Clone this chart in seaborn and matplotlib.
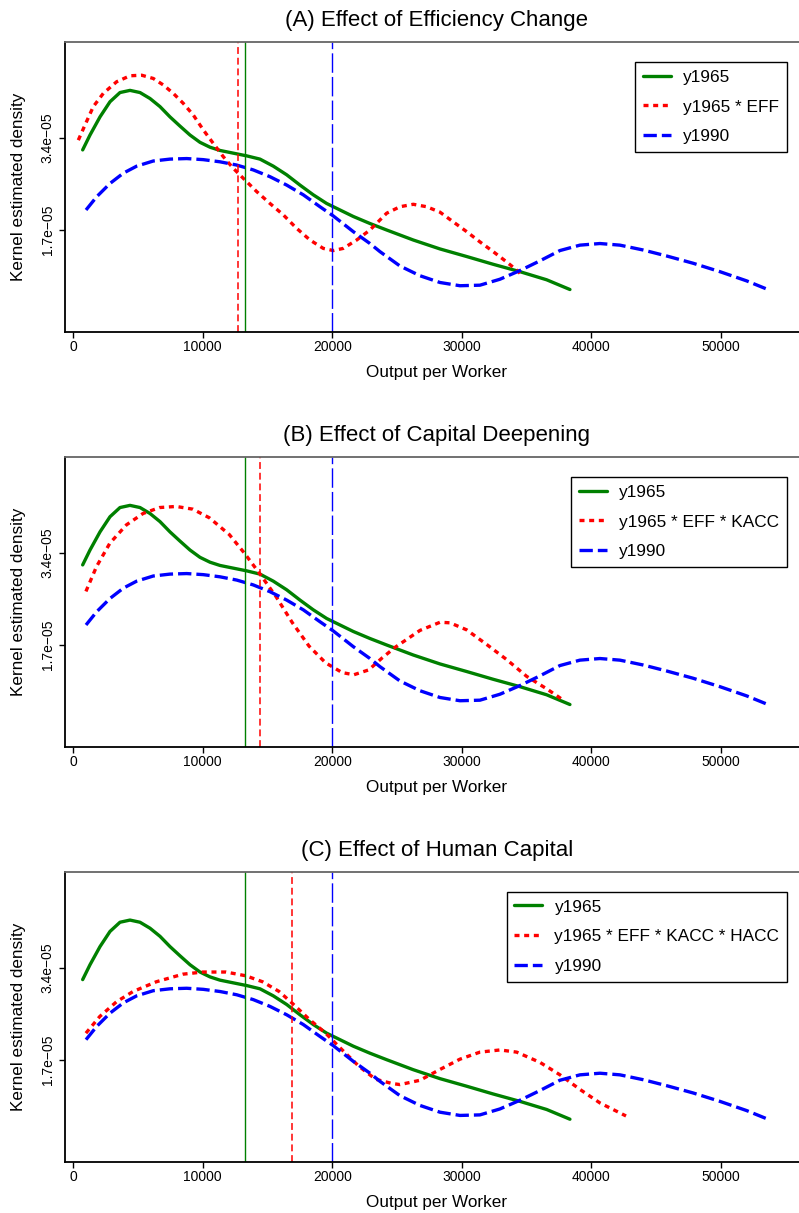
import matplotlib
matplotlib.use("Agg")
import matplotlib.pyplot as plt
import seaborn as sns
import pandas as pd

# ---------------- data (density values in units of 1e-5) ----------------
SCALE = 1e-5

y1965_x = [723, 1290, 2062, 2834, 3606, 4378, 5151, 5923, 6695, 7467, 8239,
           9012, 9784, 10556, 11328, 12355, 13390, 14417, 15444, 16479, 17506,
           18533, 19568, 20595, 21622, 22911, 24201, 26256, 28317, 30378,
           32433, 34494, 36556, 38356]
y1965_d = [3.18, 3.455, 3.79, 4.07, 4.24, 4.28, 4.24, 4.13, 3.98, 3.79, 3.62,
           3.455, 3.32, 3.23, 3.17, 3.12, 3.07, 3.01, 2.88, 2.72, 2.53,
           2.35, 2.19, 2.07, 1.95, 1.82, 1.70, 1.515, 1.35, 1.21,
           1.066, 0.93, 0.78, 0.60]

y1990_x = [981, 1807, 2834, 3861, 4896, 6178, 7467, 8757, 10039, 11328, 12618,
           13900, 15189, 16479, 17761, 19050, 20077, 21622, 22911, 23684, 25228,
           26773, 28317, 29862, 31406, 32951, 34494, 36039, 37583, 39128, 40672,
           42216, 44017, 45824, 47877, 49939, 52001, 53748]
y1990_d = [2.07, 2.315, 2.56, 2.75, 2.88, 2.975, 3.01, 3.02, 3.00, 2.96, 2.90,
           2.81, 2.685, 2.53, 2.35, 2.13, 1.96, 1.67, 1.45, 1.30, 1.035,
           0.855, 0.73, 0.67, 0.68, 0.79, 0.95, 1.13, 1.32, 1.42, 1.45,
           1.42, 1.33, 1.22, 1.085, 0.93, 0.76, 0.59]

eff_x = [386, 903, 1544, 2317, 3351, 4378, 5282, 6178, 6950, 7722, 8494, 9266,
         10039, 10811, 11583, 12355, 13128, 14162, 15189, 16216, 17251, 18278,
         19305, 20077, 20850, 21885, 22911, 24201, 25228, 26256, 27290, 28317,
         29344, 30378, 31406, 32433, 33467, 34239, 34749]
eff_d = [3.36, 3.64, 3.98, 4.225, 4.44, 4.55, 4.56, 4.50, 4.38, 4.225, 4.04, 3.825,
         3.55, 3.30, 3.055, 2.84, 2.655, 2.41, 2.19, 1.98, 1.73, 1.515,
         1.36, 1.32, 1.36, 1.515, 1.70, 2.01, 2.13, 2.175, 2.13, 2.03,
         1.85, 1.67, 1.48, 1.30, 1.11, 0.96, 0.84]

kacc_x = [974, 1795, 2821, 4103, 5385, 6666, 7949, 9231, 10513, 12051, 13205,
          14359, 15641, 16923, 18205, 19487, 20769, 21667, 22820, 23846, 24872,
          26777, 28321, 29093, 30380, 31924, 33472, 35017, 36561, 37848]
kacc_d = [2.69, 3.15, 3.58, 3.92, 4.13, 4.24, 4.26, 4.21, 4.05, 3.74, 3.40,
          3.03, 2.60, 2.11, 1.68, 1.37, 1.19, 1.15, 1.24, 1.46, 1.66,
          1.97, 2.12, 2.11, 1.98, 1.71, 1.43, 1.12, 0.89, 0.68]

hacc_x = [974, 2051, 3333, 4615, 6410, 8461, 10000, 11795, 13333, 14615, 15897,
          16923, 18205, 19487, 20769, 22051, 23333, 24615, 25232, 26777, 28321,
          29866, 31411, 32956, 34243, 36045, 37590, 39135, 40680, 42688]
hacc_d = [2.19, 2.50, 2.77, 2.96, 3.14, 3.28, 3.32, 3.32, 3.25, 3.14, 2.96,
          2.74, 2.45, 2.19, 1.88, 1.58, 1.34, 1.26, 1.24, 1.32, 1.52,
          1.71, 1.84, 1.88, 1.84, 1.65, 1.42, 1.15, 0.90, 0.66]

# vertical reference lines (means)
mean_y1965 = 13282
mean_y1990 = 20000
mean_cf = [12743, 14410, 16923]

titles = ["(A) Effect of Efficiency Change",
          "(B) Effect of Capital Deepening",
          "(C) Effect of Human Capital"]
cf_labels = ["y1965 * EFF", "y1965 * EFF * KACC", "y1965 * EFF * KACC * HACC"]
cf_series = [(eff_x, eff_d), (kacc_x, kacc_d), (hacc_x, hacc_d)]

x_ticks = [0, 10000, 20000, 30000, 40000, 50000]
x_ticklabels = ["0", "10000", "20000", "30000", "40000", "50000"]
y_ticks = [1.7e-5, 3.4e-5]
y_ticklabels = ["1.7e\u221205", "3.4e\u221205"]

legend_anchor = (0.9705, 0.931)

# ---------------- styling ----------------
sns.set_theme(style="white")
plt.rcParams["font.family"] = ["Liberation Sans", "DejaVu Sans"]
plt.rcParams["axes.unicode_minus"] = True
for k in ["text.color", "axes.labelcolor", "xtick.color", "ytick.color"]:
    plt.rcParams[k] = "black"

GREEN = "#008000"
RED = "#ff0000"
BLUE = "#0000ff"
LW = 2.4

fig = plt.figure(figsize=(7.99, 12.13), dpi=100)
W, H = 799.0, 1213.0
left = 64.5 / W
width = (809 - 64.5) / W
panel_tb = [(42, 332), (457, 747), (871.7, 1161.7)]

for i in range(3):
    top, bot = panel_tb[i]
    ax = fig.add_axes([left, 1 - bot / H, width, (bot - top) / H])

    df_g = pd.DataFrame({"x": y1965_x, "d": [v * SCALE for v in y1965_d]})
    df_b = pd.DataFrame({"x": y1990_x, "d": [v * SCALE for v in y1990_d]})
    cx, cd = cf_series[i]
    df_r = pd.DataFrame({"x": cx, "d": [v * SCALE for v in cd]})

    sns.lineplot(data=df_g, x="x", y="d", ax=ax, color=GREEN, lw=LW,
                 sort=False, estimator=None, label="y1965")
    sns.lineplot(data=df_r, x="x", y="d", ax=ax, color=RED, lw=LW,
                 sort=False, estimator=None, label=cf_labels[i],
                 linestyle=(0, (1.5, 1.4)))
    sns.lineplot(data=df_b, x="x", y="d", ax=ax, color=BLUE, lw=LW,
                 sort=False, estimator=None, label="y1990",
                 linestyle=(0, (4, 1.5)))

    ax.axvline(mean_y1965, color=GREEN, lw=1.0)
    ax.axvline(mean_cf[i], color=RED, lw=1.1, linestyle=(0, (4.5, 2.5)))
    ax.axvline(mean_y1990, color=BLUE, lw=1.0, linestyle=(0, (14, 3)))

    ax.set_xlim(-680, 56820)
    ax.set_ylim(-1.85e-6, 5.174e-5)

    ax.set_xticks(x_ticks)
    ax.set_xticklabels(x_ticklabels)
    ax.set_yticks(y_ticks)
    ax.set_yticklabels(y_ticklabels)
    ax.tick_params(axis="x", length=4, width=1, labelsize=10, pad=2,
                   colors="black", bottom=True, direction="out")
    ax.tick_params(axis="y", length=4, width=1, labelsize=10, pad=3,
                   labelrotation=90, colors="black", left=True, direction="out")
    for lab in ax.get_yticklabels():
        lab.set_va("center")

    ax.set_title(titles[i], fontsize=16, pad=11.5, color="black")
    ax.set_xlabel("Output per Worker", fontsize=12.3, labelpad=8, color="black")
    ax.set_ylabel("Kernel estimated density", fontsize=12.3, color="black")
    ax.yaxis.set_label_coords(-0.0517, 0.5)

    for s in ["left", "bottom", "right"]:
        ax.spines[s].set_color("black")
        ax.spines[s].set_linewidth(1.3)
    ax.spines["top"].set_color("#666666")
    ax.spines["top"].set_linewidth(1.3)

    leg = ax.legend(loc="upper right", bbox_to_anchor=legend_anchor,
                    borderaxespad=0, fontsize=12.4, frameon=True, fancybox=False,
                    handlelength=1.63, handletextpad=0.7, labelspacing=0.85,
                    borderpad=0.45)
    leg.get_frame().set_edgecolor("black")
    leg.get_frame().set_linewidth(1.0)
    leg.get_frame().set_alpha(1)
    for t in leg.get_texts():
        t.set_color("black")

fig.savefig("out.png", dpi=100)
